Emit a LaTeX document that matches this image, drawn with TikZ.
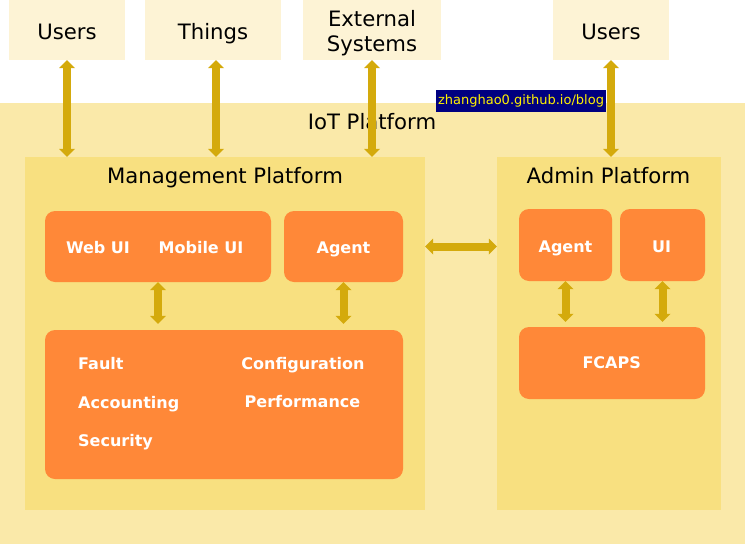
\documentclass[tikz,border=0pt]{standalone}
\usepackage{fontspec}
\setmainfont{DejaVu Sans}
\usetikzlibrary{arrows.meta}
\definecolor{outerbox}{HTML}{FDF3D5}
\definecolor{iotband}{HTML}{FAE9A9}
\definecolor{platbox}{HTML}{F8E080}
\definecolor{modbox}{HTML}{FF8838}
\definecolor{linkcol}{HTML}{D4AA0C}
\definecolor{wmblue}{HTML}{000080}
\begin{document}
\begin{tikzpicture}[x=1pt, y=-1pt,
    outer/.style={fill=outerbox, inner sep=0pt, minimum height=60pt},
    plat/.style={fill=platbox, inner sep=0pt},
    module/.style={fill=modbox, rounded corners=10pt, inner sep=0pt},
    label/.style={anchor=base, inner sep=0pt, font=\fontsize{21.2}{25}\selectfont},
    modtext/.style={anchor=base, inner sep=0pt, text=white, font=\fontsize{16}{19}\selectfont\bfseries},
    link/.style={draw=linkcol, line width=8pt,
        {Triangle[width=16pt,length=8pt,line width=0pt]}-{Triangle[width=16pt,length=8pt,line width=0pt]}}]
    \useasboundingbox (0,0) rectangle (745,544);

    % platform band
    \node[fill=iotband, inner sep=0pt, minimum width=745pt, minimum height=441pt] (iot) at (372.5,323.5) {};
    \node[label] (iotT) at (372,129) {IoT Platform};

    % outside
    \node[outer, minimum width=116pt] (users) at (67,30) {};
    \node[outer, minimum width=136pt] (things) at (213,30) {};
    \node[outer, minimum width=138pt] (extsys) at (372,30) {};
    \node[outer, minimum width=116pt] (admusers) at (611,30) {};
    \node[label] (usersT) at (67,39) {Users};
    \node[label] (thingsT) at (213,39) {Things};
    \node[label] (extT) at (372,26) {External};
    \node[label] (sysT) at (372,51) {Systems};
    \node[label] (admusersT) at (611,39) {Users};

    % platforms
    \node[plat, minimum width=400pt, minimum height=353pt] (mgmt) at (225,333.5) {};
    \node[plat, minimum width=224pt, minimum height=353pt] (admin) at (609,333.5) {};
    \node[label] (mgmtT) at (225,183) {Management Platform};
    \node[label] (adminT) at (608.5,183) {Admin Platform};

    % management modules
    \node[module, minimum width=226pt, minimum height=71pt] (ui) at (158,246.5) {};
    \node[module, minimum width=119pt, minimum height=71pt] (agentA) at (343.5,246.5) {};
    \node[module, minimum width=358pt, minimum height=149pt] (mfcaps) at (224,404.5) {};
    \node[modtext] (webT) at (98,253) {Web UI};
    \node[modtext] (mobT) at (201,253) {Mobile UI};
    \node[modtext] (agentAT) at (343.5,253) {Agent};
    \node[modtext, anchor=base west] (faultT) at (78,369) {Fault};
    \node[modtext, anchor=base west] (accT) at (78,408) {Accounting};
    \node[modtext, anchor=base west] (secT) at (78,446) {Security};
    \node[modtext] (confT) at (303,369) {Configuration};
    \node[modtext] (perfT) at (302.5,407) {Performance};

    % admin modules
    \node[module, minimum width=93pt, minimum height=72pt] (agentB) at (565.5,245) {};
    \node[module, minimum width=85pt, minimum height=72pt] (uiB) at (662.5,245) {};
    \node[module, minimum width=186pt, minimum height=72pt] (fcaps) at (612,363) {};
    \node[modtext] (agentBT) at (565.5,252) {Agent};
    \node[modtext] (uiBT) at (661.7,252) {UI};
    \node[modtext] (fcapsT) at (611.7,368) {FCAPS};

    % links
    \draw[link] (users.south) -- (users.south |- mgmt.north);
    \draw[link] ([xshift=3pt]things.south) -- ([xshift=3pt]things.south |- mgmt.north);
    \draw[link] (extsys.south) -- (extsys.south |- mgmt.north);
    \draw[link] (admusers.south) -- (admusers.south |- admin.north);
    \draw[link] (mgmt.east |- agentA) -- (admin.west |- agentA);
    \draw[link, shorten >=6pt] (ui.south) -- (ui.south |- mfcaps.north);
    \draw[link, shorten >=6pt] (agentA.south) -- (agentA.south |- mfcaps.north);
    \draw[link, shorten >=5pt] (agentB.south) -- (agentB.south |- fcaps.north);
    \draw[link, shorten >=5pt] (uiB.south) -- (uiB.south |- fcaps.north);

    \node[fill=wmblue, text=yellow, inner sep=0pt, minimum width=170pt, minimum height=22pt,
        font=\fontsize{13}{15}\selectfont] (wmark) at (521,101) {zhanghao0.github.io/blog};
\end{tikzpicture}
\end{document}
